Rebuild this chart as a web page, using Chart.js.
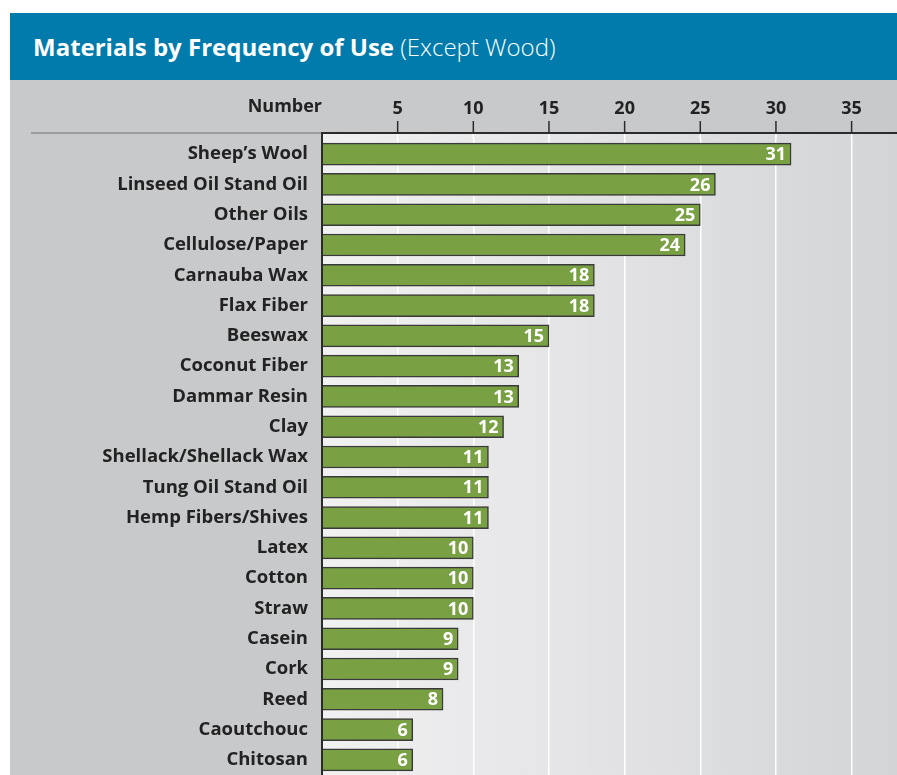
<!DOCTYPE html>
<html>
<head>
<meta charset="utf-8">
<script src="https://cdn.jsdelivr.net/npm/chart.js@4.4.1/dist/chart.umd.min.js"></script>
<style>
  body { margin: 0; background: #fff; width: 897px; height: 775px; position: relative; overflow: hidden; }
  #title {
    position: absolute; left: 10px; top: 13px; width: 887px; height: 67px;
    background: #007bab; color: #fff; font-family: "Open Sans", sans-serif;
    font-size: 24px; line-height: 67px; padding-left: 23px; box-sizing: border-box;
  }
  #title b { font-weight: 700; }
  #title span { font-weight: 300; }
  #wrap { position: absolute; left: 10px; top: 80px; width: 887px; height: 695px; }
</style>
</head>
<body>
<div id="title"><b>Materials by Frequency of Use</b> <span>(Except Wood)</span></div>
<div id="wrap"><canvas id="chart" width="887" height="695"></canvas></div>
<script>
// Materials and how often each one was named
var materials = ["Sheep\u2019s Wool", "Linseed Oil Stand Oil", "Other Oils", "Cellulose/Paper", "Carnauba Wax",
                 "Flax Fiber", "Beeswax", "Coconut Fiber", "Dammar Resin", "Clay", "Shellack/Shellack Wax",
                 "Tung Oil Stand Oil", "Hemp Fibers/Shives", "Latex", "Cotton", "Straw", "Casein", "Cork",
                 "Reed", "Caoutchouc", "Chitosan"];
var counts = [31, 26, 25, 24, 18, 18, 15, 13, 13, 12, 11, 11, 11, 10, 10, 10, 9, 9, 8, 6, 6];
var axisMax = 38;
var tickStep = 5;

var FONT = '"Open Sans", sans-serif';
var GAP = 6; // space between the top rule and the first bar row

// Background: grey panel plus the light gradient behind the bars
var backgroundPlugin = {
    id: 'panelBackground',
    beforeDraw: function(chart) {
        let ctx = chart.ctx;
        let area = chart.chartArea;
        ctx.save();
        ctx.fillStyle = '#c8c9cb';
        ctx.fillRect(0, 0, chart.width, chart.height);
        let grad = ctx.createLinearGradient(area.left, 0, area.right, 0);
        grad.addColorStop(0, '#f1f1f2');
        grad.addColorStop(1, '#d3d4d6');
        ctx.fillStyle = grad;
        ctx.fillRect(area.left, area.top - GAP, area.right - area.left, chart.height - area.top + GAP);
        ctx.restore();
    }
};

// Top rule, tick marks, "Number" caption and the value labels in the bars
var overlayPlugin = {
    id: 'overlay',
    beforeDatasetsDraw: function(chart) {
        let ctx = chart.ctx;
        let area = chart.chartArea;
        let x = chart.scales.x;
        let lineY = area.top - GAP;
        ctx.save();
        // white grid lines in the small gap above the first row and below the last
        ctx.strokeStyle = '#ffffff';
        ctx.lineWidth = 1.5;
        x.ticks.forEach(function(t) {
            if (t.value <= 0) return;
            let px = x.getPixelForValue(t.value);
            ctx.beginPath();
            ctx.moveTo(px, lineY);
            ctx.lineTo(px, area.top);
            ctx.moveTo(px, area.bottom);
            ctx.lineTo(px, chart.height);
            ctx.stroke();
        });
        ctx.restore();
    },
    afterDraw: function(chart) {
        let ctx = chart.ctx;
        let area = chart.chartArea;
        let x = chart.scales.x;
        let lineY = area.top - GAP;
        ctx.save();
        // rule under the header
        ctx.lineWidth = 2;
        ctx.strokeStyle = '#9c9d9f';
        ctx.beginPath();
        ctx.moveTo(21, lineY);
        ctx.lineTo(area.left, lineY);
        ctx.stroke();
        ctx.strokeStyle = '#2b2b2b';
        ctx.beginPath();
        ctx.moveTo(area.left - 1, lineY);
        ctx.lineTo(chart.width, lineY);
        ctx.stroke();
        // vertical axis line joins the rule
        ctx.beginPath();
        ctx.moveTo(area.left, lineY);
        ctx.lineTo(area.left, chart.height);
        ctx.stroke();
        // tick marks
        ctx.lineWidth = 1.5;
        x.ticks.forEach(function(t) {
            if (t.value <= 0) return;
            let px = x.getPixelForValue(t.value);
            ctx.beginPath();
            ctx.moveTo(px, lineY);
            ctx.lineTo(px, lineY - 12);
            ctx.stroke();
        });
        // caption
        ctx.fillStyle = '#222222';
        ctx.font = 'bold 18px ' + FONT;
        ctx.textAlign = 'right';
        ctx.textBaseline = 'middle';
        ctx.fillText('Number', area.left, 27);
        // values inside the bars
        let meta = chart.getDatasetMeta(0);
        ctx.fillStyle = '#ffffff';
        ctx.font = 'bold 18px ' + FONT;
        meta.data.forEach(function(bar, i) {
            ctx.fillText(counts[i], bar.x - 5, bar.y + 1);
        });
        ctx.restore();
    }
};

new Chart(document.getElementById('chart'), {
    type: 'bar',
    data: {
        labels: materials,
        datasets: [{
            data: counts,
            backgroundColor: '#79a043',
            borderColor: '#3a3a3a',
            borderWidth: 1.5,
            borderSkipped: 'left',
            barThickness: 22
        }]
    },
    options: {
        indexAxis: 'y',
        responsive: false,
        animation: false,
        layout: { padding: 0 },
        plugins: {
            legend: { display: false },
            tooltip: { enabled: false }
        },
        scales: {
            x: {
                position: 'top',
                min: 0,
                max: axisMax,
                afterFit: function(scale) {
                    scale.height = 59;
                    scale.paddingLeft = 0;
                    scale.paddingRight = 0;
                },
                afterBuildTicks: function(scale) {
                    let list = [];
                    for (let v = 0; v <= axisMax; v += tickStep) list.push({ value: v });
                    scale.ticks = list;
                },
                grid: { color: '#ffffff', lineWidth: 1.5, drawTicks: false },
                border: { display: false },
                ticks: {
                    padding: 19,
                    color: '#222222',
                    font: { family: FONT, size: 18, weight: 'bold' },
                    callback: function(v) { return v === 0 ? '' : v; }
                }
            },
            y: {
                afterFit: function(scale) {
                    scale.width = 312;
                    scale.paddingTop = 0;
                    scale.paddingBottom = 0;
                },
                grid: { display: false, drawTicks: false },
                border: { display: false },
                ticks: {
                    padding: 14,
                    color: '#222222',
                    font: { family: FONT, size: 18.5, weight: 'bold' }
                }
            }
        }
    },
    plugins: [backgroundPlugin, overlayPlugin]
});
</script>
</body>
</html>
